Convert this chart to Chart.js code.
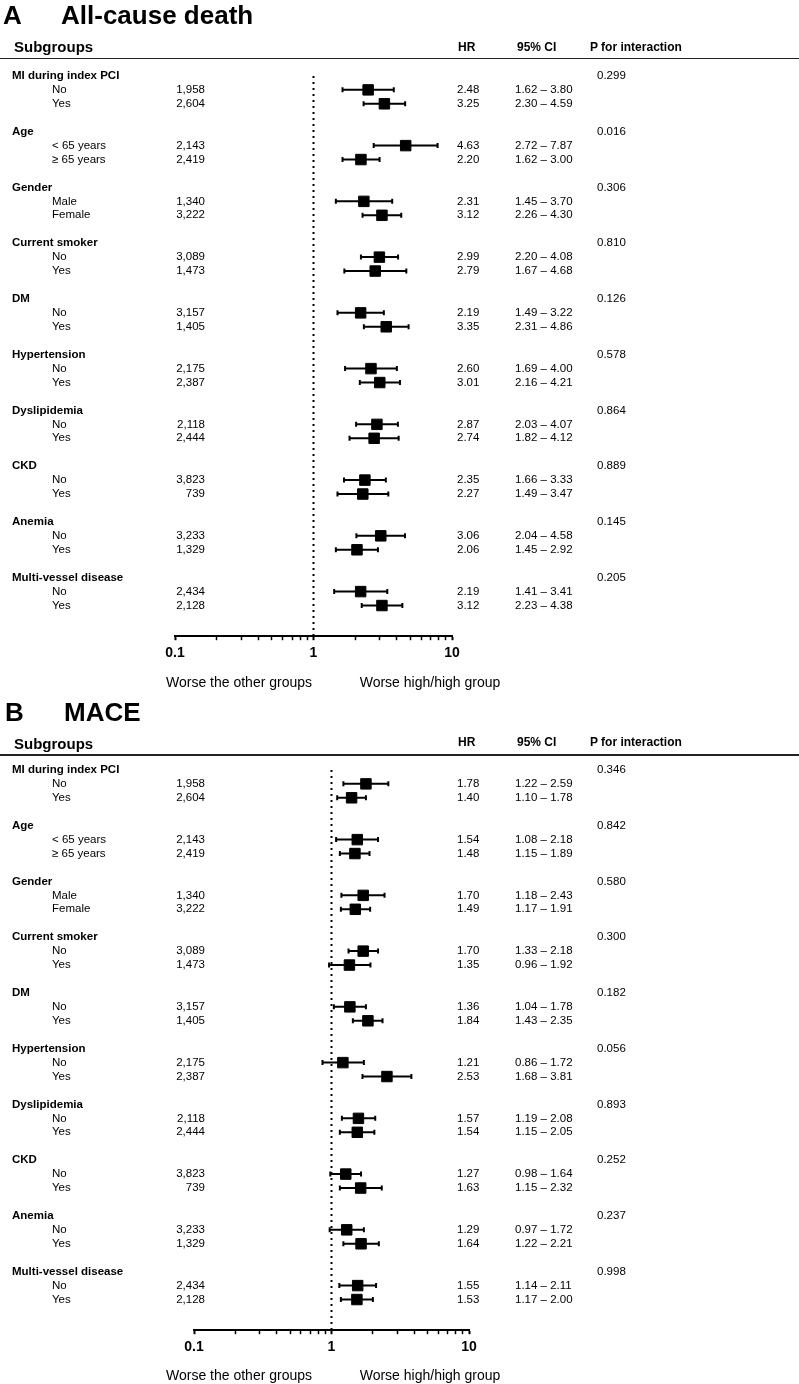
<!DOCTYPE html>
<html>
<head>
<meta charset="utf-8">
<title>Subgroup analysis - all-cause death and MACE</title>
<script src="https://cdn.jsdelivr.net/npm/chart.js@4.4.1/dist/chart.umd.min.js"></script>
<style>
  body { margin: 0; background: #fff; }
  #page { position: relative; width: 799px; height: 1384px; overflow: hidden;
          font-family: "Liberation Sans", Arial, sans-serif; color: #000; }
  canvas { position: absolute; left: 0; }
  .t { position: absolute; white-space: nowrap; line-height: 1; }
  .title { font-size: 26px; font-weight: bold; }
  .sub { font-size: 15px; font-weight: bold; }
  .hd { font-size: 12px; font-weight: bold; }
  .rule { position: absolute; left: 0; width: 799px; height: 1.5px; background: #222; }
</style>
</head>
<body>
<div id="page">
  <canvas id="chartA" width="799" height="694" style="top:0px"></canvas>
  <canvas id="chartB" width="799" height="690" style="top:694px"></canvas>

  <!-- panel A header -->
  <div class="t title" style="left:3px; top:2px">A</div>
  <div class="t title" style="left:61px; top:2px">All-cause death</div>
  <div class="t sub" style="left:14px; top:39px">Subgroups</div>
  <div class="t hd" style="left:458px; top:41px">HR</div>
  <div class="t hd" style="left:517px; top:41px">95% CI</div>
  <div class="t hd" style="left:590px; top:41px">P for interaction</div>
  <div class="rule" style="top:57.5px"></div>

  <!-- panel B header -->
  <div class="t title" style="left:5px; top:699px">B</div>
  <div class="t title" style="left:64px; top:699px">MACE</div>
  <div class="t sub" style="left:14px; top:736px">Subgroups</div>
  <div class="t hd" style="left:458px; top:736px">HR</div>
  <div class="t hd" style="left:517px; top:736px">95% CI</div>
  <div class="t hd" style="left:590px; top:736px">P for interaction</div>
  <div class="rule" style="top:754px"></div>
</div>

<script>
// data
const groups = ['MI during index PCI', 'Age', 'Gender', 'Current smoker', 'DM',
                'Hypertension', 'Dyslipidemia', 'CKD', 'Anemia', 'Multi-vessel disease'];
const subLabels = ['No', 'Yes', '< 65 years', '\u2265 65 years', 'Male', 'Female',
                   'No', 'Yes', 'No', 'Yes', 'No', 'Yes', 'No', 'Yes',
                   'No', 'Yes', 'No', 'Yes', 'No', 'Yes'];
const patients = [1958, 2604, 2143, 2419, 1340, 3222, 3089, 1473, 3157, 1405,
                  2175, 2387, 2118, 2444, 3823, 739, 3233, 1329, 2434, 2128];

const deathHR = [2.48, 3.25, 4.63, 2.20, 2.31, 3.12, 2.99, 2.79, 2.19, 3.35,
                 2.60, 3.01, 2.87, 2.74, 2.35, 2.27, 3.06, 2.06, 2.19, 3.12];
const deathLo = [1.62, 2.30, 2.72, 1.62, 1.45, 2.26, 2.20, 1.67, 1.49, 2.31,
                 1.69, 2.16, 2.03, 1.82, 1.66, 1.49, 2.04, 1.45, 1.41, 2.23];
const deathHi = [3.80, 4.59, 7.87, 3.00, 3.70, 4.30, 4.08, 4.68, 3.22, 4.86,
                 4.00, 4.21, 4.07, 4.12, 3.33, 3.47, 4.58, 2.92, 3.41, 4.38];
const deathP = [0.299, 0.016, 0.306, 0.810, 0.126, 0.578, 0.864, 0.889, 0.145, 0.205];

const maceHR = [1.78, 1.40, 1.54, 1.48, 1.70, 1.49, 1.70, 1.35, 1.36, 1.84,
                1.21, 2.53, 1.57, 1.54, 1.27, 1.63, 1.29, 1.64, 1.55, 1.53];
const maceLo = [1.22, 1.10, 1.08, 1.15, 1.18, 1.17, 1.33, 0.96, 1.04, 1.43,
                0.86, 1.68, 1.19, 1.15, 0.98, 1.15, 0.97, 1.22, 1.14, 1.17];
const maceHi = [2.59, 1.78, 2.18, 1.89, 2.43, 1.91, 2.18, 1.92, 1.78, 2.35,
                1.72, 3.81, 2.08, 2.05, 1.64, 2.32, 1.72, 2.21, 2.11, 2.00];
const maceP = [0.346, 0.842, 0.580, 0.300, 0.182, 0.056, 0.893, 0.252, 0.237, 0.998];

const xTicks = [0.1, 0.2, 0.3, 0.4, 0.5, 0.6, 0.7, 0.8, 0.9, 1, 2, 3, 4, 5, 6, 7, 8, 9, 10];
const xTickLabels = [0.1, 1, 10];
const noteLeft = 'Worse the other groups';
const noteRight = 'Worse high/high group';

// each group takes 4 row slots: group name, two subgroups, blank
const groupRow = g => g * 4;
const subRow = i => Math.floor(i / 2) * 4 + 1 + (i % 2);
const yMax = 40.2;
const FONT = '"Liberation Sans", Arial, sans-serif';

function tablePlugin(hr, lo, hi, p, noteY) {
    return {
        id: 'tableText',
        afterDraw(chart) {
            const ctx = chart.ctx;
            const y = chart.scales.y;
            ctx.save();
            ctx.fillStyle = '#000';
            ctx.textBaseline = 'middle';
            groups.forEach((name, g) => {
                const gy = y.getPixelForValue(groupRow(g));
                ctx.textAlign = 'left';
                ctx.font = 'bold 11.5px ' + FONT;
                ctx.fillText(name, 12, gy);
                ctx.font = '11.5px ' + FONT;
                ctx.fillText(p[g].toFixed(3), 597, gy);
            });
            ctx.font = '11.5px ' + FONT;
            subLabels.forEach((label, i) => {
                const ry = y.getPixelForValue(subRow(i));
                ctx.textAlign = 'left';
                ctx.fillText(label, 52, ry);
                ctx.fillText(hr[i].toFixed(2), 457, ry);
                ctx.fillText(lo[i].toFixed(2) + ' \u2013 ' + hi[i].toFixed(2), 515, ry);
                ctx.textAlign = 'right';
                ctx.fillText(patients[i].toLocaleString('en-US'), 205, ry);
            });
            // direction notes under the axis
            ctx.font = '14px ' + FONT;
            ctx.textAlign = 'center';
            ctx.fillText(noteLeft, 239, noteY);
            ctx.fillText(noteRight, 430, noteY);
            ctx.restore();
        }
    };
}

function drawForest(canvasId, hr, lo, hi, p, layout) {
    const boxes = hr.map((v, i) => ({x: v, y: subRow(i)}));
    const whiskers = [];
    const caps = [];
    lo.forEach((l, i) => {
        whiskers.push({x: l, y: subRow(i)}, {x: hi[i], y: subRow(i)}, {x: hi[i], y: null});
        caps.push({x: l, y: subRow(i)}, {x: hi[i], y: subRow(i)});
    });

    // setup
    const data = {
        datasets: [{
            data: boxes,
            pointStyle: 'rect',
            pointRadius: 7.4,
            pointBackgroundColor: '#000',
            pointBorderColor: '#000',
            pointBorderWidth: 1,
            order: 0
        },
        {
            data: whiskers,
            showLine: true,
            spanGaps: false,
            borderColor: '#000',
            borderWidth: 2,
            pointRadius: 0,
            order: 1
        },
        {
            data: caps,
            pointStyle: 'line',
            pointRotation: 90,
            pointRadius: 2.5,
            pointBorderColor: '#000',
            pointBorderWidth: 2,
            order: 2
        },
        {
            data: [{x: 1, y: 0}, {x: 1, y: yMax}],
            showLine: true,
            borderColor: '#000',
            borderWidth: 2,
            borderDash: [2, 4],
            pointRadius: 0,
            order: 3
        }]
    };

    // config
    const config = {
        type: 'scatter',
        data,
        options: {
            responsive: false,
            animation: false,
            events: [],
            layout: {
                padding: {left: layout.left, right: 799 - layout.right, top: 62, bottom: layout.bottom}
            },
            plugins: {
                legend: {display: false},
                tooltip: {enabled: false}
            },
            scales: {
                x: {
                    type: 'logarithmic',
                    min: 0.1,
                    max: 10,
                    afterBuildTicks: scale => {
                        scale.ticks = xTicks.map(v => ({value: v}));
                    },
                    ticks: {
                        autoSkip: false,
                        maxRotation: 0,
                        padding: 5,
                        color: '#000',
                        font: {family: FONT, size: 14, weight: 'bold'},
                        callback: v => xTickLabels.includes(v) ? String(v) : ''
                    },
                    grid: {
                        drawOnChartArea: false,
                        tickLength: 4,
                        color: '#000',
                        tickWidth: ctx => xTickLabels.includes(ctx.tick.value) ? 2 : 1.5
                    },
                    border: {color: '#000', width: 2}
                },
                y: {
                    type: 'linear',
                    reverse: true,
                    min: -1,
                    max: yMax,
                    display: false
                }
            }
        },
        plugins: [tablePlugin(hr, lo, hi, p, layout.noteY)]
    };

    // render init block
    return new Chart(document.getElementById(canvasId), config);
}

drawForest('chartA', deathHR, deathLo, deathHi, deathP, {left: 175, right: 452, bottom: 27, noteY: 683});
drawForest('chartB', maceHR, maceLo, maceHi, maceP, {left: 194, right: 469, bottom: 23, noteY: 682});
</script>
</body>
</html>
